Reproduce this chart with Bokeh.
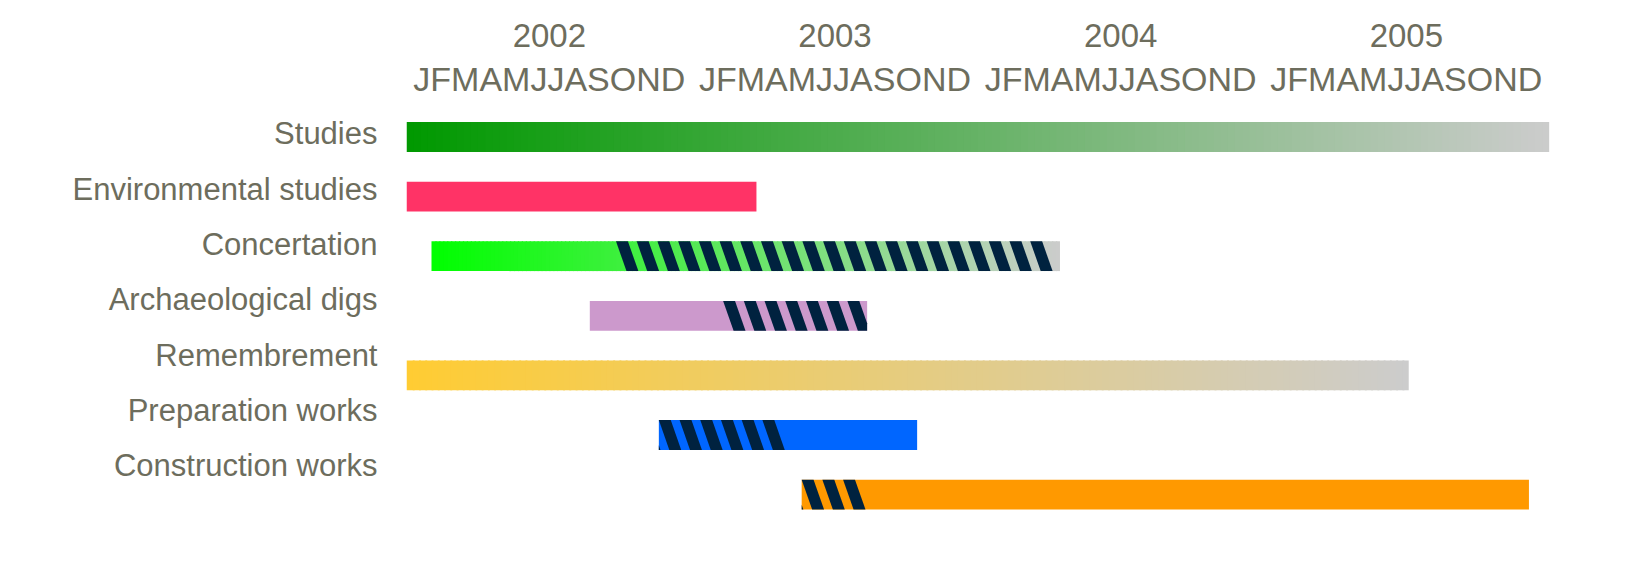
import numpy as np
from bokeh.plotting import figure
from bokeh.models import Range1d, LinearAxis, FixedTicker, ColumnDataSource, BoxAnnotation
from bokeh.embed import file_html
from bokeh.resources import INLINE

# ---------------- data (months counted from January 2002) ----------------
tasks = ["Studies", "Environmental studies", "Concertation", "Archaeological digs",
         "Remembrement", "Preparation works", "Construction works"]
task_start = [0.0, 0.0, 1.05, 7.7, 0.0, 10.6, 16.6]
task_end = [48.0, 14.7, 27.45, 19.35, 42.1, 21.45, 47.15]
hatch_start = [None, None, 8.8, 13.3, None, 10.6, 16.6]
hatch_end = [None, None, 27.45, 19.35, None, 15.8, 19.0]
color_from = ["#009900", "#ff3366", "#00ff00", "#cc99cc", "#ffcc33", "#0066ff", "#ff9900"]
color_to = ["#cccccc", "#ff3366", "#cccccc", "#cc99cc", "#cccccc", "#0066ff", "#ff9900"]
years = ["2002", "2003", "2004", "2005"]
month_initials = ["J", "F", "M", "A", "M", "J", "J", "A", "S", "O", "N", "D"]

# ---------------- styling ----------------
TEXT = "#6d6d5d"
STRIPE = "#00223f"
FRAME_GRAY = "#dddddd"
FONT = "Liberation Sans"
BAR_H = 0.5
STRIPE_PERIOD = 0.87
STRIPE_W = 0.5
STRIPE_SLANT = 0.44


def hex_rgb(h):
    h = h.lstrip("#")
    return np.array([int(h[i:i + 2], 16) for i in (0, 2, 4)], dtype=float)


def rgb_hex(c):
    return "#%02x%02x%02x" % tuple(int(round(v)) for v in c)


def clip_poly(pts, lo, hi):
    def clip(points, keep, xcut):
        out = []
        n = len(points)
        for i in range(n):
            cur = points[i]
            prev = points[i - 1]
            cin, pin = keep(cur[0]), keep(prev[0])
            if cin:
                if not pin:
                    t = (xcut - prev[0]) / (cur[0] - prev[0])
                    out.append((xcut, prev[1] + t * (cur[1] - prev[1])))
                out.append(cur)
            elif pin:
                t = (xcut - prev[0]) / (cur[0] - prev[0])
                out.append((xcut, prev[1] + t * (cur[1] - prev[1])))
        return out
    pts = clip(pts, lambda x: x >= lo, lo)
    if pts:
        pts = clip(pts, lambda x: x <= hi, hi)
    return pts


# segments for the bars (gradients drawn as thin slices)
seg_l, seg_r, seg_t, seg_b, seg_c = [], [], [], [], []
for i in range(len(tasks)):
    s, e = task_start[i], task_end[i]
    c0, c1 = hex_rgb(color_from[i]), hex_rgb(color_to[i])
    n = 1 if color_from[i] == color_to[i] else 160
    w = (e - s) / n
    for k in range(n):
        f = (k + 0.5) / n
        seg_l.append(s + k * w)
        seg_r.append(min(e, s + (k + 1) * w + (w * 0.3 if n > 1 else 0)))
        seg_t.append(i - BAR_H / 2)
        seg_b.append(i + BAR_H / 2)
        seg_c.append(rgb_hex(c0 + (c1 - c0) * f))
bars = ColumnDataSource(dict(left=seg_l, right=seg_r, top=seg_t, bottom=seg_b, color=seg_c))

# stripes for the hatched parts
sx, sy = [], []
for i in range(len(tasks)):
    if hatch_start[i] is None:
        continue
    hs, he = hatch_start[i], hatch_end[i]
    yt, yb = i - BAR_H / 2, i + BAR_H / 2
    a = hs - STRIPE_PERIOD
    while a + STRIPE_W <= he + 1e-6:
        poly = [(a, yt), (a + STRIPE_W, yt), (a + STRIPE_W + STRIPE_SLANT, yb), (a + STRIPE_SLANT, yb)]
        if a < hs and hs > task_start[i]:
            poly = []
        else:
            poly = clip_poly(poly, task_start[i], task_end[i])
        if len(poly) >= 3:
            sx.append([p[0] for p in poly])
            sy.append([p[1] for p in poly])
        a += STRIPE_PERIOD
stripes = ColumnDataSource(dict(xs=sx, ys=sy))

p = figure(width=1632, height=578,
           x_range=Range1d(0, 51.5), y_range=Range1d(7.408, -0.612),
           min_border_left=406, min_border_top=100, min_border_right=0, min_border_bottom=0,
           output_backend="svg", toolbar_location=None,
           x_axis_location="above", y_axis_location=None)
p.outline_line_color = None
p.xgrid.visible = False
p.ygrid.visible = False
p.background_fill_color = "white"
p.border_fill_color = "white"

# light grey page frame (left and top strips)
for l, r, t, b in ((0, 11, 0, 578), (0, 1632, 0, 7)):
    p.add_layout(BoxAnnotation(left=l, right=r, top=t, bottom=b,
                               left_units="canvas", right_units="canvas",
                               top_units="canvas", bottom_units="canvas",
                               fill_color=FRAME_GRAY, fill_alpha=1.0,
                               line_color=None, level="overlay"))

p.quad(left="left", right="right", top="top", bottom="bottom", source=bars,
       fill_color="color", line_color=None)
p.patches(xs="xs", ys="ys", source=stripes, fill_color=STRIPE, line_color=None)

year_centers = [12 * k + 6 for k in range(len(years))]

# month initials axis
max_ = p.xaxis[0]
max_.ticker = FixedTicker(ticks=year_centers)
max_.major_label_overrides = {c: "".join(month_initials) for c in year_centers}

# years axis
yax = LinearAxis(ticker=FixedTicker(ticks=year_centers),
                 major_label_overrides={c: y for c, y in zip(year_centers, years)})
p.add_layout(yax, "above")

for ax, size, standoff in ((max_, "34px", 3), (yax, "33px", 10)):
    ax.axis_line_color = None
    ax.major_tick_line_color = None
    ax.minor_tick_line_color = None
    ax.major_tick_out = 0
    ax.major_tick_in = 0
    ax.major_label_standoff = standoff
    ax.major_label_text_font = FONT
    ax.major_label_text_font_size = size
    ax.major_label_text_color = TEXT

# task labels axis
p.extra_y_ranges = {"labels": Range1d(8.04, -0.604)}
lax = LinearAxis(y_range_name="labels", ticker=FixedTicker(ticks=list(range(len(tasks)))),
                 major_label_overrides={i: t for i, t in enumerate(tasks)})
lax.axis_line_color = None
lax.major_tick_line_color = None
lax.minor_tick_line_color = None
lax.major_tick_out = 0
lax.major_tick_in = 0
lax.major_label_standoff = 29
lax.major_label_text_font = FONT
lax.major_label_text_font_size = "31px"
lax.major_label_text_color = TEXT
p.add_layout(lax, "left")

open("out.html", "w").write(file_html(p, INLINE))
